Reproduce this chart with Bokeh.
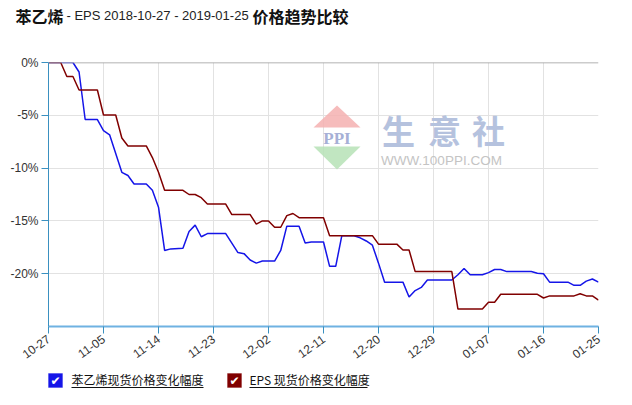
import pandas as pd
from bokeh.plotting import figure
from bokeh.layouts import column
from bokeh.models import (Range1d, FixedTicker, DatetimeTickFormatter, PrintfTickFormatter,
                          Span, Label, BoxAnnotation, PolyAnnotation)
from bokeh.embed import file_html
from bokeh.resources import INLINE

# ---------------- data ----------------
title_main = "苯乙烯"
title_mid = "- EPS 2018-10-27 - 2019-01-25"
title_end = "价格趋势比较"
series_names = ["苯乙烯现货价格变化幅度", "EPS 现货价格变化幅度"]

x_tick_dates = ["2018-10-27", "2018-11-05", "2018-11-14", "2018-11-23", "2018-12-02",
                "2018-12-11", "2018-12-20", "2018-12-29", "2019-01-07", "2019-01-16", "2019-01-25"]
y_tick_vals = [0, -5, -10, -15, -20]

styrene_dates = ["2018-10-27", "2018-10-31", "2018-11-01", "2018-11-02", "2018-11-04", "2018-11-05",
                 "2018-11-06", "2018-11-08", "2018-11-09", "2018-11-10", "2018-11-12", "2018-11-13",
                 "2018-11-14", "2018-11-15", "2018-11-16", "2018-11-18", "2018-11-19", "2018-11-20",
                 "2018-11-21", "2018-11-22", "2018-11-25", "2018-11-26", "2018-11-27", "2018-11-28",
                 "2018-11-29", "2018-11-30", "2018-12-01", "2018-12-03", "2018-12-04", "2018-12-05",
                 "2018-12-07", "2018-12-08", "2018-12-09", "2018-12-11", "2018-12-12", "2018-12-13",
                 "2018-12-14", "2018-12-16", "2018-12-17", "2018-12-18", "2018-12-19", "2018-12-20",
                 "2018-12-21", "2018-12-24", "2018-12-25", "2018-12-26", "2018-12-27", "2018-12-28",
                 "2019-01-01", "2019-01-02", "2019-01-03", "2019-01-04", "2019-01-06", "2019-01-07",
                 "2019-01-08", "2019-01-09", "2019-01-10", "2019-01-14", "2019-01-15", "2019-01-16",
                 "2019-01-17", "2019-01-20", "2019-01-21", "2019-01-22", "2019-01-23", "2019-01-24",
                 "2019-01-25"]
styrene_pct = [0, 0, -0.9, -5.4, -5.4, -6.45,
               -6.85, -10.4, -10.7, -11.5, -11.5, -12.1,
               -13.7, -17.8, -17.65, -17.6, -16.0, -15.4,
               -16.5, -16.2, -16.2, -17.1, -18.0, -18.1,
               -18.7, -19.0, -18.8, -18.8, -17.8, -15.5,
               -15.5, -17.1, -17.0, -17.0, -19.3, -19.3,
               -16.4, -16.4, -16.6, -16.9, -17.3, -19.0,
               -20.8, -20.8, -22.2, -21.6, -21.3, -20.6,
               -20.6, -20.1, -19.5, -20.1, -20.1, -19.9,
               -19.6, -19.6, -19.8, -19.8, -19.95, -20.0,
               -20.8, -20.8, -21.1, -21.1, -20.7, -20.5,
               -20.8]

eps_dates = ["2018-10-27", "2018-10-29", "2018-10-30", "2018-10-31", "2018-11-01", "2018-11-04",
             "2018-11-05", "2018-11-07", "2018-11-08", "2018-11-09", "2018-11-12", "2018-11-13",
             "2018-11-14", "2018-11-15", "2018-11-18", "2018-11-19", "2018-11-20", "2018-11-21",
             "2018-11-22", "2018-11-25", "2018-11-26", "2018-11-29", "2018-11-30", "2018-12-01",
             "2018-12-02", "2018-12-03", "2018-12-04", "2018-12-05", "2018-12-06", "2018-12-07",
             "2018-12-11", "2018-12-12", "2018-12-19", "2018-12-20", "2018-12-23", "2018-12-24",
             "2018-12-25", "2018-12-26", "2019-01-01", "2019-01-02", "2019-01-06", "2019-01-07",
             "2019-01-08", "2019-01-09", "2019-01-15", "2019-01-16", "2019-01-17", "2019-01-21",
             "2019-01-22", "2019-01-23", "2019-01-24", "2019-01-25"]
eps_pct = [0, 0, -1.33, -1.33, -2.6, -2.6,
           -4.97, -4.97, -7.15, -7.9, -7.9, -9.0,
           -10.4, -12.1, -12.1, -12.5, -12.5, -12.8,
           -13.4, -13.4, -14.4, -14.4, -15.3, -15.0,
           -15.0, -15.6, -15.6, -14.5, -14.3, -14.7,
           -14.7, -16.4, -16.4, -17.2, -17.2, -17.75,
           -17.75, -19.8, -19.8, -23.35, -23.35, -22.7,
           -22.7, -21.95, -21.95, -22.3, -22.1, -22.1,
           -21.9, -22.1, -22.1, -22.5]

blue = "#1515e8"
maroon = "#800000"
cjk = "Noto Sans CJK SC"
latin = "Liberation Sans"
W = 616


def blank_fig(h):
    f = figure(width=W, height=h, output_backend="svg", toolbar_location=None,
               x_range=Range1d(0, W), y_range=Range1d(0, h),
               x_axis_location=None, y_axis_location=None,
               min_border=0, min_border_left=0, min_border_right=0,
               min_border_top=0, min_border_bottom=0, frame_align=False)
    f.outline_line_color = None
    f.xgrid.visible = False
    f.ygrid.visible = False
    f.background_fill_color = "white"
    f.border_fill_color = "white"
    return f


# ---------------- title strip ----------------
TH = 52
t = blank_fig(TH)
t.add_layout(Label(x=15, y=TH - 15, text=title_main, text_font=cjk, text_font_size="16px",
                   text_font_style="bold", text_color="#111111", text_baseline="middle"))
t.add_layout(Label(x=66, y=TH - 15, text=title_mid, text_font=latin, text_font_size="13px",
                   text_color="#222222", text_baseline="middle"))
t.add_layout(Label(x=252, y=TH - 15, text=title_end, text_font=cjk, text_font_size="16px",
                   text_font_style="bold", text_color="#111111", text_baseline="middle"))

# ---------------- main chart ----------------
p = figure(width=W, height=316, x_axis_type="datetime", output_backend="svg",
           toolbar_location=None, frame_align=False,
           x_range=Range1d(pd.Timestamp(x_tick_dates[0]), pd.Timestamp(x_tick_dates[-1])),
           y_range=Range1d(-25, 0),
           min_border_left=48, min_border_right=18, min_border_top=10, min_border_bottom=42)
p.outline_line_color = None
p.background_fill_color = "white"
p.border_fill_color = "white"

tick_ms = [pd.Timestamp(d).value / 1e6 for d in x_tick_dates]
p.xaxis.ticker = FixedTicker(ticks=tick_ms)
p.xaxis.formatter = DatetimeTickFormatter(days="%m-%d", months="%m-%d", years="%m-%d")
p.xaxis.major_label_orientation = 0.62
p.xaxis.axis_line_color = "#6fb2e2"
p.xaxis.axis_line_width = 2
p.xaxis.major_tick_line_color = "#3a90c0"
p.xaxis.major_tick_out = 7
p.xaxis.major_tick_in = 0
p.xaxis.minor_tick_line_color = None
p.xaxis.major_label_text_font = latin
p.xaxis.major_label_text_font_size = "12px"
p.xaxis.major_label_text_color = "#333333"
p.xaxis.major_label_standoff = 4

p.yaxis.ticker = FixedTicker(ticks=y_tick_vals)
p.yaxis.formatter = PrintfTickFormatter(format="%d%%")
p.yaxis.axis_line_color = "#3a90c0"
p.yaxis.axis_line_width = 1
p.yaxis.major_tick_line_color = "#3a90c0"
p.yaxis.major_tick_out = 7
p.yaxis.major_tick_in = 0
p.yaxis.minor_tick_line_color = None
p.yaxis.major_label_text_font = latin
p.yaxis.major_label_text_font_size = "12px"
p.yaxis.major_label_text_color = "#333333"
p.yaxis.major_label_standoff = 3

p.xgrid.ticker = p.xaxis.ticker
p.ygrid.ticker = p.yaxis.ticker
p.xgrid.grid_line_color = "#e2e2e2"
p.ygrid.grid_line_color = "#e2e2e2"

p.add_layout(Span(location=0, dimension="width", line_color="#999999", line_width=1.5))

# watermark (decoration, screen units relative to the plot frame)
p.add_layout(PolyAnnotation(xs=[265, 312, 288.5], ys=[199, 199, 221], xs_units="screen",
                            ys_units="screen", fill_color="#f4b0b0", fill_alpha=0.85,
                            line_color=None, level="underlay"))
p.add_layout(PolyAnnotation(xs=[265, 312, 288.5], ys=[180, 180, 157], xs_units="screen",
                            ys_units="screen", fill_color="#b6e2b6", fill_alpha=0.85,
                            line_color=None, level="underlay"))
p.add_layout(Label(x=288.5, y=188, x_units="screen", y_units="screen", text="PPI",
                   text_font="Liberation Serif", text_font_size="17px",
                   text_font_style="bold", text_color="#a6b0d6", text_align="center",
                   text_baseline="middle", level="underlay"))
for cx, ch in zip([350, 396, 440], "生意社"):
    p.add_layout(Label(x=cx, y=197, x_units="screen", y_units="screen", text=ch,
                       text_font=cjk, text_font_size="33px", text_font_style="bold",
                       text_color="#b5c2de", text_align="center", text_baseline="middle",
                       level="underlay"))
p.add_layout(Label(x=393, y=166, x_units="screen", y_units="screen", text="WWW.100PPI.COM",
                   text_font=latin, text_font_size="13.5px", text_color="#c4c4c4",
                   text_align="center", text_baseline="middle", level="underlay"))

p.line(pd.to_datetime(styrene_dates), styrene_pct, line_color=blue, line_width=1.5)
p.line(pd.to_datetime(eps_dates), eps_pct, line_color=maroon, line_width=1.5)

# ---------------- legend strip (checkbox style) ----------------
LH = 24
lg = blank_fig(LH)
cy = 12
legend_items = [(0, 55, 71, 203, blue), (1, 234, 249, 367, maroon)]
for idx, bx, tx, ux, col in legend_items:
    lg.add_layout(BoxAnnotation(left=bx - 7, right=bx + 7, bottom=cy - 7, top=cy + 7,
                                fill_color=col, fill_alpha=1, line_color=col))
    lg.add_layout(Label(x=bx, y=cy, text="✔", text_font="DejaVu Sans", text_font_size="12px",
                        text_color="white", text_align="center", text_baseline="middle"))
    lg.add_layout(Label(x=tx, y=cy + 1, text=series_names[idx], text_font=cjk,
                        text_font_size="12px", text_color="#111111", text_baseline="middle"))
    lg.add_layout(BoxAnnotation(left=tx, right=ux, bottom=cy - 7.5, top=cy - 6.5,
                                fill_color="#111111", fill_alpha=1, line_color=None))

layout = column(t, p, lg, spacing=0)
open("out.html", "w").write(file_html(layout, INLINE))
